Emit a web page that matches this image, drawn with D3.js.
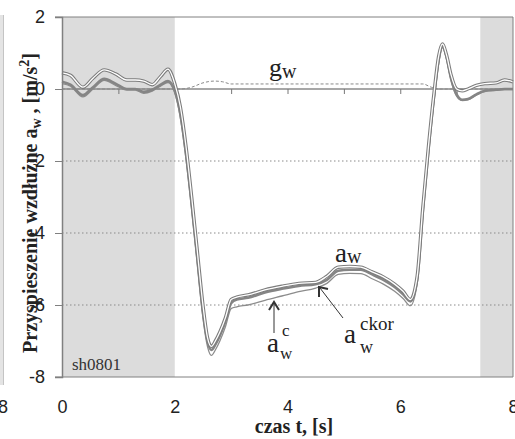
<!DOCTYPE html>
<html>
<head>
<meta charset="utf-8">
<script src="https://cdn.jsdelivr.net/npm/d3@7"></script>
<style>
  body { margin: 0; background: #fff; }
  svg { display: block; }
</style>
</head>
<body>
<div id="chart"></div>
<script>
// time points, [s]
const time = [0, 0.15, 0.37, 0.55, 0.75, 0.95, 1.15, 1.3, 1.45, 1.6, 1.75, 1.88, 2.0, 2.1, 2.2, 2.3, 2.4, 2.5, 2.58, 2.65, 2.72, 2.8, 2.9, 3.0, 3.1, 3.3, 3.6, 3.9, 4.2, 4.5, 4.7, 4.9, 5.1, 5.3, 5.5, 5.7, 5.9, 6.05, 6.18, 6.3, 6.4, 6.5, 6.6, 6.68, 6.75, 6.82, 6.9, 7.0, 7.1, 7.2, 7.35, 7.5, 7.7, 7.85, 8.0];

// a_w (upper trace)
const aw = [0.45, 0.38, 0.05, 0.3, 0.53, 0.42, 0.25, 0.25, 0.22, 0.12, 0.35, 0.55, 0.15, -0.5, -1.6, -3.0, -4.5, -6.0, -6.9, -7.15, -7.0, -6.75, -6.35, -5.85, -5.78, -5.72, -5.58, -5.48, -5.4, -5.37, -5.2, -4.95, -4.93, -4.95, -5.08, -5.22, -5.42, -5.62, -5.85, -5.2, -3.3, -1.6, -0.1, 0.9, 1.25, 0.95, 0.4, 0.0, -0.05, 0.0, 0.1, 0.15, 0.17, 0.25, 0.2];

// a_w^ckor (middle trace)
const awCkor = [0.2, 0.12, -0.17, 0.05, 0.28, 0.15, 0.0, 0.0, -0.08, -0.02, 0.12, 0.22, -0.05, -0.7, -1.8, -3.2, -4.7, -6.2, -7.0, -7.25, -7.1, -6.85, -6.45, -5.95, -5.85, -5.8, -5.65, -5.55, -5.47, -5.42, -5.3, -5.05, -5.02, -5.02, -5.15, -5.3, -5.5, -5.7, -5.9, -5.3, -3.4, -1.7, -0.2, 0.8, 1.2, 0.9, 0.3, -0.15, -0.3, -0.28, -0.15, -0.05, -0.02, 0.0, 0.0];

// a_w^c (lower trace)
const awC = [0.15, 0.08, -0.22, 0.0, 0.24, 0.1, -0.03, -0.03, -0.12, -0.06, 0.08, 0.18, -0.1, -0.8, -1.95, -3.35, -4.85, -6.35, -7.15, -7.4, -7.25, -7.0, -6.6, -6.1, -6.05, -6.0, -5.87, -5.75, -5.63, -5.53, -5.4, -5.15, -5.12, -5.13, -5.27, -5.42, -5.62, -5.82, -6.02, -5.4, -3.5, -1.8, -0.3, 0.7, 1.15, 0.85, 0.25, -0.2, -0.32, -0.3, -0.17, -0.07, -0.04, -0.02, -0.02];

// g_w (dashed)
const gTime = [0, 2.1, 2.3, 2.5, 2.7, 2.85, 3.0, 6.4, 6.55, 6.7, 8.0];
const gw = [0, 0, 0.05, 0.17, 0.22, 0.2, 0.14, 0.14, 0.05, 0, 0];

const yTicks = [-8, -6, -4, -2, 0, 2];
const xTicks = [0, 2, 4, 6, 8];
const shadedBands = [[0, 2], [7.42, 8]];

const width = 515, height = 439;
const x = d3.scaleLinear().domain([0, 8]).range([62, 513]);
const y = d3.scaleLinear().domain([-8, 2]).range([377, 17]);

const svg = d3.select("#chart").append("svg")
    .attr("width", width)
    .attr("height", height);

// piece of the neighbouring chart on the left edge
svg.append("rect")
    .attr("x", 0).attr("y", 15).attr("width", 3.5).attr("height", 370)
    .attr("fill", "#e4e4e4");
svg.append("line")
    .attr("x1", 3.5).attr("x2", 3.5).attr("y1", 15).attr("y2", 385)
    .attr("stroke", "#c4c4c4");
svg.append("text")
    .attr("x", 3).attr("y", 413)
    .attr("text-anchor", "middle")
    .style("font", "18px 'Liberation Sans', Arial, sans-serif")
    .attr("fill", "#222")
    .text("8");

// shaded time windows
svg.append("g").selectAll("rect")
  .data(shadedBands)
  .join("rect")
    .attr("x", d => x(d[0]))
    .attr("width", d => x(d[1]) - x(d[0]))
    .attr("y", y(2))
    .attr("height", y(-8) - y(2))
    .attr("fill", "#dcdcdc");

// dotted grid
svg.append("g").selectAll("line")
  .data([-2, -4, -6])
  .join("line")
    .attr("x1", x(0)).attr("x2", x(8))
    .attr("y1", d => y(d)).attr("y2", d => y(d))
    .attr("stroke", "#8a8a8a")
    .attr("stroke-width", 1)
    .attr("stroke-dasharray", "1.5,2.5");

// zero line with minor ticks
svg.append("line")
    .attr("x1", x(0)).attr("x2", x(8))
    .attr("y1", y(0)).attr("y2", y(0))
    .attr("stroke", "#8a8a8a")
    .attr("stroke-width", 1.5);
svg.append("g")
    .attr("transform", `translate(0,${y(0)})`)
    .call(d3.axisBottom(x).tickValues([1, 2, 3, 4, 5, 6, 7]).tickSize(5).tickFormat(""))
    .call(g => g.select(".domain").remove())
    .call(g => g.selectAll(".tick line").attr("stroke", "#777"));

// g_w
const gLine = d3.line()
    .x((d, i) => x(gTime[i]))
    .y(d => y(d))
    .curve(d3.curveMonotoneX);
svg.append("path")
    .attr("d", gLine(gw))
    .attr("fill", "none")
    .attr("stroke", "#8a8a8a")
    .attr("stroke-width", 1)
    .attr("stroke-dasharray", "3,2");

// acceleration traces
const line = d3.line()
    .x((d, i) => x(time[i]))
    .y(d => y(d))
    .curve(d3.curveMonotoneX);

svg.append("path")
    .attr("d", line(awC))
    .attr("fill", "none")
    .attr("stroke", "#8c8c8c")
    .attr("stroke-width", 1.3);

svg.append("path")
    .attr("d", line(awCkor))
    .attr("fill", "none")
    .attr("stroke", "#858585")
    .attr("stroke-width", 2.6);

// a_w drawn as a double line
svg.append("path")
    .attr("d", line(aw))
    .attr("fill", "none")
    .attr("stroke", "#7c7c7c")
    .attr("stroke-width", 3.4);
svg.append("path")
    .attr("d", line(aw))
    .attr("fill", "none")
    .attr("stroke", "#fff")
    .attr("stroke-width", 1.3);

// frame
const frame = svg.append("g").attr("stroke", "#808080").attr("fill", "none");
frame.append("line").attr("x1", 55).attr("x2", x(8)).attr("y1", y(2)).attr("y2", y(2));
frame.append("line").attr("x1", 55).attr("x2", x(8)).attr("y1", y(-8)).attr("y2", y(-8));
frame.append("line").attr("x1", x(8)).attr("x2", x(8)).attr("y1", y(2)).attr("y2", y(-8));

const serif = "'Liberation Serif', 'Times New Roman', serif";

// y axis title (drawn under the tick labels)
const yTitle = svg.append("text")
    .attr("transform", "translate(37,203) rotate(-90)")
    .attr("text-anchor", "middle")
    .style("font", `bold 20px ${serif}`)
    .attr("fill", "#222");
yTitle.append("tspan").text("Przyspieszenie wzdłużne a");
yTitle.append("tspan").attr("dy", 4).style("font-size", "14px").text("w");
yTitle.append("tspan").attr("dy", -4).text(" , [m/s");
yTitle.append("tspan").attr("dy", -8).style("font-size", "14px").text("2");
yTitle.append("tspan").attr("dy", 8).text("]");

// y axis
svg.append("g")
    .attr("transform", `translate(${x(0)},0)`)
    .call(d3.axisLeft(y).tickValues(yTicks).tickSize(7).tickPadding(10).tickFormat(d => String(d)))
    .call(g => g.select(".domain").attr("stroke", "#808080").attr("stroke-width", 1.5))
    .call(g => g.selectAll(".tick line").attr("stroke", "#808080"))
    .call(g => g.selectAll(".tick text")
        .style("font", "18px 'Liberation Sans', Arial, sans-serif")
        .attr("fill", "#222"));

// x axis labels
svg.append("g")
    .attr("transform", `translate(0,${y(-8)})`)
    .call(d3.axisBottom(x).tickValues(xTicks).tickSize(0).tickPadding(23).tickFormat(d => String(d)))
    .call(g => g.select(".domain").remove())
    .call(g => g.selectAll(".tick text")
        .style("font", "18px 'Liberation Sans', Arial, sans-serif")
        .attr("fill", "#222"));

// x axis title
svg.append("text")
    .attr("x", 294).attr("y", 433)
    .attr("text-anchor", "middle")
    .style("font", `bold 20px ${serif}`)
    .attr("fill", "#222")
    .text("czas t, [s]");

// series labels
const lab = svg.append("g").style("font-family", serif).attr("fill", "#222");

const gLab = lab.append("text").attr("x", 269).attr("y", 76).style("font-size", "26px");
gLab.append("tspan").text("g");
gLab.append("tspan").attr("dy", 2).style("font-size", "20px").text("w");

const awLab = lab.append("text").attr("x", 335).attr("y", 262).style("font-size", "27px");
awLab.append("tspan").text("a");
awLab.append("tspan").attr("dy", 1).style("font-size", "20px").text("w");

lab.append("text").attr("x", 267).attr("y", 352).style("font-size", "27px").text("a");
lab.append("text").attr("x", 282).attr("y", 336).style("font-size", "17px").text("c");
lab.append("text").attr("x", 280).attr("y", 359).style("font-size", "17px").text("w");

lab.append("text").attr("x", 344).attr("y", 343).style("font-size", "27px").text("a");
lab.append("text").attr("x", 360).attr("y", 330).style("font-size", "19px").text("ckor");
lab.append("text").attr("x", 360).attr("y", 353).style("font-size", "18px").text("w");

// pointer arrows
const arrows = svg.append("g").attr("fill", "none").attr("stroke", "#333");
arrows.append("line").attr("x1", 274).attr("y1", 333).attr("x2", 274).attr("y2", 303).attr("stroke-width", 1);
arrows.append("path").attr("d", "M269,310 L274,302 L279,310").attr("stroke-width", 2);
arrows.append("line").attr("x1", 343).attr("y1", 318).attr("x2", 320).attr("y2", 288).attr("stroke-width", 1);
arrows.append("path").attr("d", "M319,297 L319,287 L328,289").attr("stroke-width", 2);

// run id
svg.append("text")
    .attr("x", 72).attr("y", 370)
    .style("font", `17px ${serif}`)
    .attr("fill", "#333")
    .text("sh0801");
</script>
</body>
</html>
